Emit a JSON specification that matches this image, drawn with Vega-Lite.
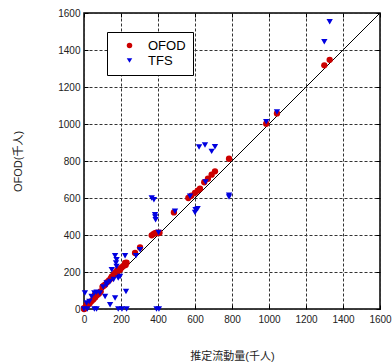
{
  "$schema": "https://vega.github.io/schema/vega-lite/v6.json",
  "width": 296,
  "height": 296,
  "autosize": {"type": "none"},
  "padding": {"left": 84, "top": 13, "right": 12, "bottom": 55},
  "background": "white",
  "config": {
    "font": "Liberation Sans, Noto Sans CJK JP",
    "view": {"stroke": "black", "strokeWidth": 1.5},
    "axis": {
      "domain": false, "tickColor": "black", "tickSize": -4, "tickWidth": 1, "labelOverlap": false, "labelFlush": false, "format": "d",
      "labelFontSize": 10, "labelColor": "#222", "titleFontSize": 11, "titleFontWeight": "normal", "titleColor": "#222"
    }
  },
  "layer": [
    {
      "data": {"values": [{"x": 0, "y": 0}, {"x": 1600, "y": 1600}]},
      "mark": {"type": "line", "color": "black", "strokeWidth": 1},
      "encoding": {
        "x": {"field": "x", "type": "quantitative", "scale": {"domain": [0, 1600], "nice": false},
              "axis": {"orient": "top", "labels": false, "grid": false, "title": null, "values": [0,200,400,600,800,1000,1200,1400,1600]}},
        "y": {"field": "y", "type": "quantitative", "scale": {"domain": [0, 1600], "nice": false},
              "axis": {"orient": "right", "labels": false, "grid": false, "title": null, "values": [0,200,400,600,800,1000,1200,1400,1600]}}
      }
    },
    {
      "data": {"values": [
        {"x": 0, "y": 0, "s": "OFOD"}, {"x": 0, "y": 5, "s": "OFOD"}, {"x": 5, "y": 3, "s": "OFOD"}, {"x": 10, "y": 10, "s": "OFOD"},
        {"x": 14, "y": 23, "s": "OFOD"}, {"x": 20, "y": 22, "s": "OFOD"}, {"x": 30, "y": 30, "s": "OFOD"}, {"x": 40, "y": 42, "s": "OFOD"},
        {"x": 50, "y": 52, "s": "OFOD"}, {"x": 59, "y": 77, "s": "OFOD"}, {"x": 60, "y": 62, "s": "OFOD"}, {"x": 70, "y": 75, "s": "OFOD"},
        {"x": 80, "y": 82, "s": "OFOD"}, {"x": 90, "y": 95, "s": "OFOD"}, {"x": 100, "y": 120, "s": "OFOD"}, {"x": 105, "y": 125, "s": "OFOD"},
        {"x": 114, "y": 131, "s": "OFOD"}, {"x": 125, "y": 145, "s": "OFOD"}, {"x": 135, "y": 155, "s": "OFOD"}, {"x": 145, "y": 165, "s": "OFOD"},
        {"x": 150, "y": 175, "s": "OFOD"}, {"x": 160, "y": 185, "s": "OFOD"}, {"x": 168, "y": 195, "s": "OFOD"}, {"x": 175, "y": 200, "s": "OFOD"},
        {"x": 180, "y": 210, "s": "OFOD"}, {"x": 185, "y": 205, "s": "OFOD"}, {"x": 195, "y": 212, "s": "OFOD"}, {"x": 200, "y": 222, "s": "OFOD"},
        {"x": 210, "y": 230, "s": "OFOD"}, {"x": 222, "y": 249, "s": "OFOD"}, {"x": 230, "y": 250, "s": "OFOD"}, {"x": 225, "y": 238, "s": "OFOD"},
        {"x": 276, "y": 303, "s": "OFOD"}, {"x": 303, "y": 333, "s": "OFOD"}, {"x": 366, "y": 398, "s": "OFOD"}, {"x": 375, "y": 405, "s": "OFOD"},
        {"x": 384, "y": 410, "s": "OFOD"}, {"x": 393, "y": 412, "s": "OFOD"}, {"x": 400, "y": 410, "s": "OFOD"}, {"x": 408, "y": 412, "s": "OFOD"},
        {"x": 486, "y": 522, "s": "OFOD"}, {"x": 564, "y": 600, "s": "OFOD"}, {"x": 580, "y": 612, "s": "OFOD"}, {"x": 600, "y": 628, "s": "OFOD"},
        {"x": 615, "y": 640, "s": "OFOD"}, {"x": 627, "y": 650, "s": "OFOD"}, {"x": 650, "y": 685, "s": "OFOD"}, {"x": 670, "y": 704, "s": "OFOD"},
        {"x": 690, "y": 726, "s": "OFOD"}, {"x": 708, "y": 744, "s": "OFOD"}, {"x": 784, "y": 812, "s": "OFOD"}, {"x": 985, "y": 1002, "s": "OFOD"},
        {"x": 1043, "y": 1057, "s": "OFOD"}, {"x": 1299, "y": 1317, "s": "OFOD"}, {"x": 1328, "y": 1347, "s": "OFOD"},
        {"x": 0, "y": 0, "s": "TFS"}, {"x": 5, "y": 86, "s": "TFS"}, {"x": 14, "y": 32, "s": "TFS"}, {"x": 18, "y": 0, "s": "TFS"},
        {"x": 29, "y": 41, "s": "TFS"}, {"x": 41, "y": 68, "s": "TFS"}, {"x": 56, "y": 86, "s": "TFS"}, {"x": 56, "y": 0, "s": "TFS"},
        {"x": 68, "y": 0, "s": "TFS"}, {"x": 68, "y": 90, "s": "TFS"}, {"x": 86, "y": 86, "s": "TFS"}, {"x": 104, "y": 119, "s": "TFS"},
        {"x": 114, "y": 68, "s": "TFS"}, {"x": 122, "y": 130, "s": "TFS"}, {"x": 122, "y": 140, "s": "TFS"}, {"x": 141, "y": 149, "s": "TFS"},
        {"x": 141, "y": 23, "s": "TFS"}, {"x": 150, "y": 212, "s": "TFS"}, {"x": 160, "y": 160, "s": "TFS"}, {"x": 168, "y": 288, "s": "TFS"},
        {"x": 168, "y": 59, "s": "TFS"}, {"x": 173, "y": 249, "s": "TFS"}, {"x": 176, "y": 266, "s": "TFS"}, {"x": 176, "y": 230, "s": "TFS"},
        {"x": 185, "y": 168, "s": "TFS"}, {"x": 185, "y": 0, "s": "TFS"}, {"x": 195, "y": 176, "s": "TFS"}, {"x": 205, "y": 0, "s": "TFS"},
        {"x": 222, "y": 288, "s": "TFS"}, {"x": 227, "y": 95, "s": "TFS"}, {"x": 230, "y": 0, "s": "TFS"}, {"x": 281, "y": 288, "s": "TFS"},
        {"x": 303, "y": 320, "s": "TFS"}, {"x": 366, "y": 600, "s": "TFS"}, {"x": 378, "y": 591, "s": "TFS"}, {"x": 384, "y": 510, "s": "TFS"},
        {"x": 387, "y": 483, "s": "TFS"}, {"x": 385, "y": 498, "s": "TFS"}, {"x": 392, "y": 0, "s": "TFS"}, {"x": 405, "y": 0, "s": "TFS"},
        {"x": 403, "y": 414, "s": "TFS"}, {"x": 492, "y": 528, "s": "TFS"}, {"x": 573, "y": 609, "s": "TFS"}, {"x": 600, "y": 522, "s": "TFS"},
        {"x": 603, "y": 537, "s": "TFS"}, {"x": 614, "y": 542, "s": "TFS"}, {"x": 657, "y": 686, "s": "TFS"}, {"x": 784, "y": 605, "s": "TFS"},
        {"x": 784, "y": 615, "s": "TFS"}, {"x": 622, "y": 876, "s": "TFS"}, {"x": 654, "y": 886, "s": "TFS"}, {"x": 690, "y": 852, "s": "TFS"},
        {"x": 708, "y": 877, "s": "TFS"}, {"x": 985, "y": 1012, "s": "TFS"}, {"x": 1043, "y": 1065, "s": "TFS"}, {"x": 1299, "y": 1445, "s": "TFS"},
        {"x": 1328, "y": 1553, "s": "TFS"}
      ]},
      "mark": {"type": "point", "filled": true, "opacity": 1, "size": 40},
      "encoding": {
        "x": {"field": "x", "type": "quantitative", "scale": {"domain": [0, 1600], "nice": false},
              "axis": {"title": "推定流動量(千人)", "titlePadding": 26, "labelPadding": 9, "values": [0,200,400,600,800,1000,1200,1400,1600],
                       "grid": true, "gridColor": "#333", "gridDash": [3, 2], "gridOpacity": 1, "gridWidth": 1}},
        "y": {"field": "y", "type": "quantitative", "scale": {"domain": [0, 1600], "nice": false},
              "axis": {"title": "OFOD(千人)", "titlePadding": 34, "labelPadding": 8, "values": [0,200,400,600,800,1000,1200,1400,1600],
                       "grid": true, "gridColor": "#333", "gridDash": [3, 2], "gridOpacity": 1, "gridWidth": 1}},
        "color": {"field": "s", "type": "nominal", "scale": {"domain": ["OFOD", "TFS"], "range": ["#cc0000", "#0000e0"]},
          "legend": {"title": null, "orient": "none", "legendX": 23, "legendY": 19, "strokeColor": "black", "fillColor": "white",
                     "padding": 7, "labelFontSize": 13, "symbolSize": 30, "symbolOffset": 9, "labelOffset": 12, "rowPadding": 1, "offset": 0,
                     "encode": {"labels": {"update": {"fill": {"signal": "datum.value === 'OFOD' ? '#cc0000' : '#0000e0'"}}},
                                "symbols": {"update": {"strokeWidth": {"value": 0}}}}}},
        "shape": {"field": "s", "type": "nominal", "scale": {"domain": ["OFOD", "TFS"], "range": ["circle", "triangle-down"]}}
      }
    }
  ],
  "resolve": {"axis": {"x": "independent", "y": "independent"}}
}
